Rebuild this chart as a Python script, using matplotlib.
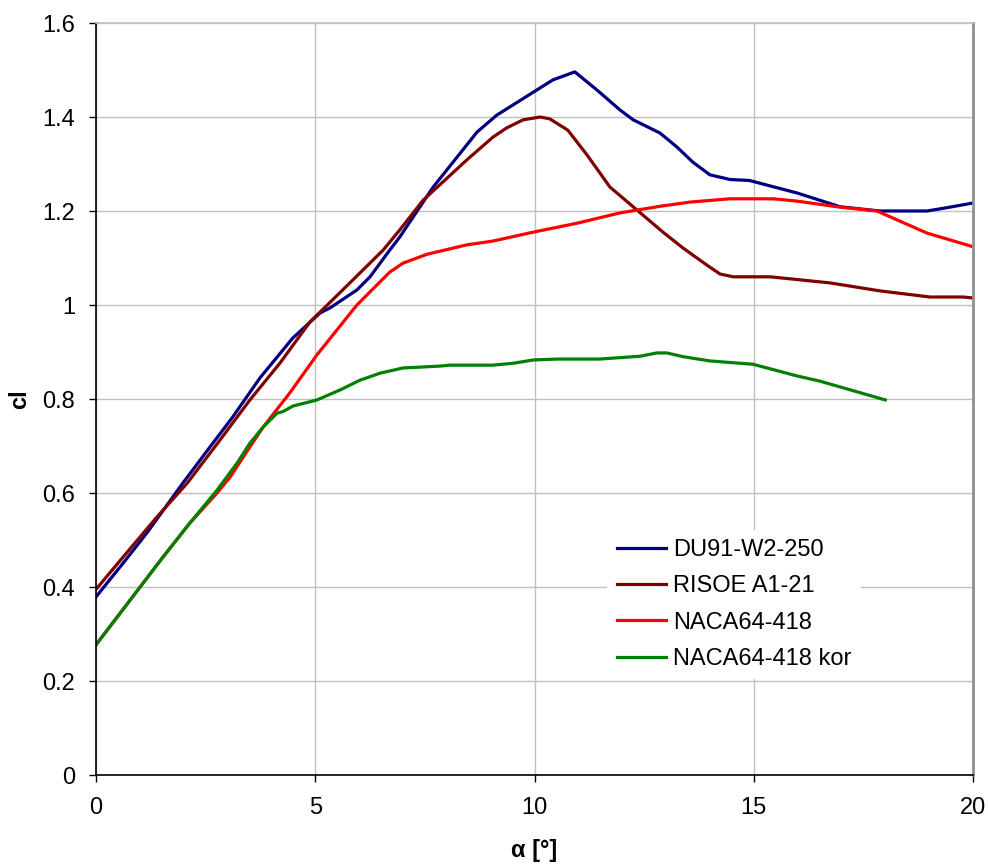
import matplotlib
matplotlib.use("Agg")
import matplotlib.pyplot as plt

plt.rcParams['font.family'] = ['Liberation Sans', 'DejaVu Sans']

du_a = [0.0, 0.62, 1.16, 1.98, 2.6, 3.12, 3.74, 4.49, 5.11, 5.34, 5.95, 6.25, 6.7, 6.93,
        7.69, 8.69, 9.14, 10.13, 10.42, 10.92, 11.43, 11.95, 12.25, 12.86, 13.25, 13.61,
        14.0, 14.46, 14.9, 16.0, 16.97, 17.88, 18.95, 19.4, 20.0]
du_cl = [0.379, 0.451, 0.515, 0.621, 0.698, 0.762, 0.845, 0.930, 0.983, 0.994, 1.032, 1.06,
         1.117, 1.145, 1.251, 1.368, 1.404, 1.462, 1.479, 1.496, 1.457, 1.415, 1.394, 1.366,
         1.336, 1.304, 1.277, 1.267, 1.265, 1.238, 1.209, 1.200, 1.200, 1.207, 1.217]

ri_a = [0.0, 0.62, 1.39, 2.08, 2.83, 3.51, 4.2, 4.88, 5.56, 6.55, 6.93, 7.46, 8.46, 9.05,
        9.37, 9.74, 10.13, 10.35, 10.76, 11.2, 11.72, 12.25, 12.93, 13.39, 13.93, 14.23,
        14.53, 15.37, 15.9, 16.74, 17.88, 19.02, 19.77, 20.0]
ri_cl = [0.395, 0.464, 0.549, 0.621, 0.713, 0.798, 0.877, 0.964, 1.026, 1.117, 1.16, 1.223,
         1.309, 1.357, 1.377, 1.394, 1.400, 1.396, 1.372, 1.319, 1.251, 1.209, 1.155, 1.121,
         1.085, 1.066, 1.060, 1.060, 1.055, 1.047, 1.030, 1.017, 1.017, 1.015]

na_a = [0.0, 1.53, 2.14, 2.76, 3.06, 3.51, 3.81, 4.42, 5.04, 5.95, 6.7, 7.0, 7.55, 8.46,
        9.05, 9.97, 10.97, 11.95, 12.86, 13.55, 14.46, 15.44, 15.99, 16.9, 17.81, 18.95, 20.0]
na_cl = [0.277, 0.464, 0.536, 0.600, 0.634, 0.698, 0.740, 0.813, 0.894, 1.000, 1.070, 1.089,
         1.108, 1.128, 1.136, 1.155, 1.174, 1.196, 1.210, 1.219, 1.226, 1.226, 1.221, 1.209,
         1.200, 1.153, 1.124]

ko_a = [0.0, 1.53, 2.14, 2.76, 3.22, 3.51, 3.81, 4.13, 4.26, 4.49, 5.04, 5.56, 6.02, 6.48,
        7.0, 7.84, 8.07, 9.05, 9.51, 9.97, 10.51, 11.49, 12.41, 12.79, 13.02, 13.39, 14.0,
        14.98, 15.99, 16.51, 18.0]
ko_cl = [0.277, 0.464, 0.536, 0.606, 0.664, 0.706, 0.740, 0.770, 0.773, 0.785, 0.798, 0.819,
         0.840, 0.855, 0.866, 0.870, 0.872, 0.872, 0.876, 0.883, 0.885, 0.885, 0.891, 0.898,
         0.898, 0.890, 0.881, 0.874, 0.849, 0.838, 0.798]

series = [
    ("DU91-W2-250", du_a, du_cl, "#000080"),
    ("RISOE A1-21", ri_a, ri_cl, "#800000"),
    ("NACA64-418", na_a, na_cl, "#ff0000"),
    ("NACA64-418 kor", ko_a, ko_cl, "#008000"),
]

x_ticks = [0, 5, 10, 15, 20]
y_ticks = [0, 0.2, 0.4, 0.6, 0.8, 1.0, 1.2, 1.4, 1.6]
y_labels = ["0", "0.2", "0.4", "0.6", "0.8", "1", "1.2", "1.4", "1.6"]

fig = plt.figure(figsize=(9.88, 8.66), dpi=100)
ax = fig.add_axes([96/988, 1-775/866, (973-96)/988, (775-23)/866])

for name, a, cl, c in series:
    ax.plot(a, cl, color=c, lw=2.3, label=name, solid_joinstyle='round')

ax.set_xlim(0, 20)
ax.set_ylim(0, 1.6)
ax.set_xticks(x_ticks)
ax.set_yticks(y_ticks)
ax.set_yticklabels(y_labels)
ax.grid(True, color="#c0c0c0", lw=1.0)
ax.set_axisbelow(True)
ax.tick_params(axis='both', labelsize=17, direction='out', length=5, width=1)
ax.tick_params(axis='x', pad=11)
ax.tick_params(axis='y', pad=10)
ax.spines['left'].set_color('black')
ax.spines['bottom'].set_color('black')
ax.spines['right'].set_color('#909090')
ax.spines['top'].set_color('#c0c0c0')
for s in ax.spines.values():
    s.set_linewidth(1.2)
ax.spines['right'].set_linewidth(2)

ax.set_xlabel("α [°]", fontsize=17, fontweight='bold', labelpad=14)
ax.set_ylabel("cl", fontsize=17, fontweight='bold', labelpad=8)

leg = ax.legend(loc='upper left', bbox_to_anchor=(0.583, 0.326), frameon=True,
                fontsize=17, handlelength=2.1, handletextpad=0.3, labelspacing=0.6,
                borderpad=0.4, borderaxespad=0)
leg.get_frame().set_edgecolor('none')
leg.get_frame().set_facecolor('white')
leg.get_frame().set_alpha(1)
leg.get_frame().set_boxstyle('square', pad=0)

fig.savefig("out.png", dpi=100)
